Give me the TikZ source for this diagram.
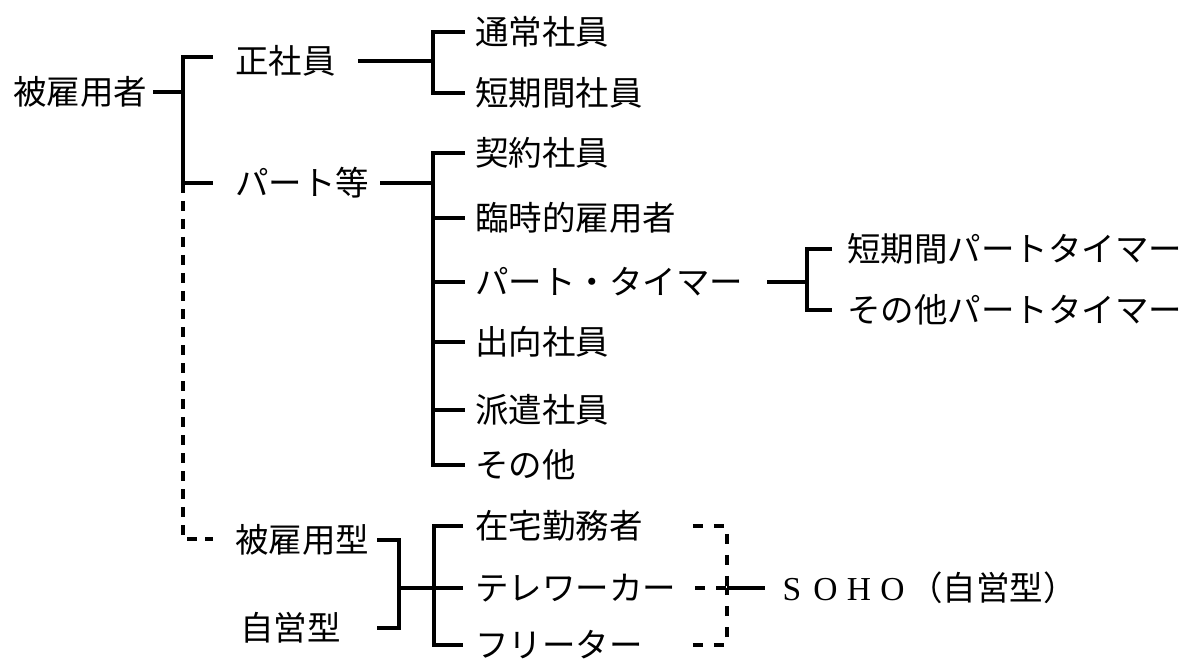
\documentclass[tikz,border=0pt]{standalone}
\usepackage{fontspec}
\newfontfamily\jp{Noto Sans CJK JP}
\newfontfamily\lat{Liberation Serif}
\newcommand{\fw}[1]{\makebox[33.5pt]{#1}}
\begin{document}
\begin{tikzpicture}[x=1pt,y=-1pt,
  lbl/.style={inner sep=0pt, anchor=west, font=\jp\fontsize{33.5pt}{40pt}\selectfont, text height=29.5pt, text depth=4pt},
  ln/.style={line width=3.2pt},
  dln/.style={line width=3.2pt, dash pattern=on 10pt off 8pt},
  dlnb/.style={line width=3.2pt, dash pattern=on 10pt off 11pt},
]
\useasboundingbox (0,0) rectangle (1184,663);
% labels
\node[lbl] (hiko) at (13,92) {被雇用者};
\node[lbl] (sei) at (235,61) {正社員};
\node[lbl] (part) at (235,183) {パート等};
\node[lbl] (hkg) at (235,540) {被雇用型};
\node[lbl] (jei) at (240,628) {自営型};
\node[lbl] (tsu) at (475,32) {通常社員};
\node[lbl] (tan) at (475,93) {短期間社員};
\node[lbl] (kei) at (475,153) {契約社員};
\node[lbl] (rin) at (475,218) {臨時的雇用者};
\node[lbl] (pt) at (475,282) {パート・タイマー};
\node[lbl] (shu) at (475,342) {出向社員};
\node[lbl] (ha) at (475,410) {派遣社員};
\node[lbl] (sono) at (475,465) {その他};
\node[lbl] (tpt) at (847,249) {短期間パートタイマー};
\node[lbl] (spt) at (847,310) {その他パートタイマー};
\node[lbl] (zai) at (475,526) {在宅勤務者};
\node[lbl] (tele) at (475,588) {テレワーカー};
\node[lbl] (free) at (475,645) {フリーター};
\node[lbl] (soho) at (775,588) {{\lat\fw{S}\fw{O}\fw{H}\fw{O}}（自営型）};
% junctions
\coordinate (mt) at (183,57);
\coordinate (mj) at (183,92);
\coordinate (mp) at (183,183);
\coordinate (mb) at (183,539);
\coordinate (b1) at (433,61);
\coordinate (b2) at (433,183);
\coordinate (b3) at (807,282);
\coordinate (b4) at (399,588);
\coordinate (b5) at (434,588);
\coordinate (b6) at (727,588);
% main trunk
\draw[ln,shorten <=6pt] (hiko.east) -- (mj);
\draw[ln,shorten >=22pt] (mp) -- (mt) -- (sei.west |- mt);
\draw[ln,shorten >=22pt] (mp) -- (part.west);
\draw[dln,shorten >=22pt] (mp) -- (mb) -- (hkg.west |- mb);
% 正社員
\draw[ln,shorten <=22pt] (sei.east) -- (b1);
\draw[ln,shorten <=10pt,shorten >=10pt] (tsu.west) -- (tsu.west -| b1) -- (tan.west -| b1) -- (tan.west);
% パート等
\draw[ln,shorten <=11pt] (part.east) -- (b2);
\draw[ln,shorten <=10pt,shorten >=10pt] (kei.west) -- (kei.west -| b2) -- (sono.west -| b2) -- (sono.west);
\foreach \n in {rin,pt,shu,ha} \draw[ln,shorten >=10pt] (\n.west -| b2) -- (\n.west);
% パート・タイマー
\draw[ln,shorten <=24pt] (pt.east) -- (b3);
\draw[ln,shorten <=15pt,shorten >=15pt] (tpt.west) -- (tpt.west -| b3) -- (spt.west -| b3) -- (spt.west);
% 被雇用型 / 自営型
\draw[ln,shorten <=8pt,shorten >=36pt] (hkg.east) -- (hkg.east -| b4) -- (jei.east -| b4) -- (jei.east);
\draw[ln] (b4) -- (b5);
\draw[ln,shorten <=12pt,shorten >=12pt] (zai.west) -- (zai.west -| b5) -- (free.west -| b5) -- (free.west);
\draw[ln,shorten >=12pt] (b5) -- (tele.west);
% SOHO
\draw[dlnb,shorten <=50pt] (zai.east) -- (zai.east -| b6) -- (b6);
\draw[dlnb,shorten <=50pt] (free.east) -- (free.east -| b6) -- (b6);
\draw[dlnb,shorten <=19pt] (tele.east) -- (b6);
\draw[ln,shorten >=10pt] (b6) -- (soho.west);
\end{tikzpicture}
\end{document}
